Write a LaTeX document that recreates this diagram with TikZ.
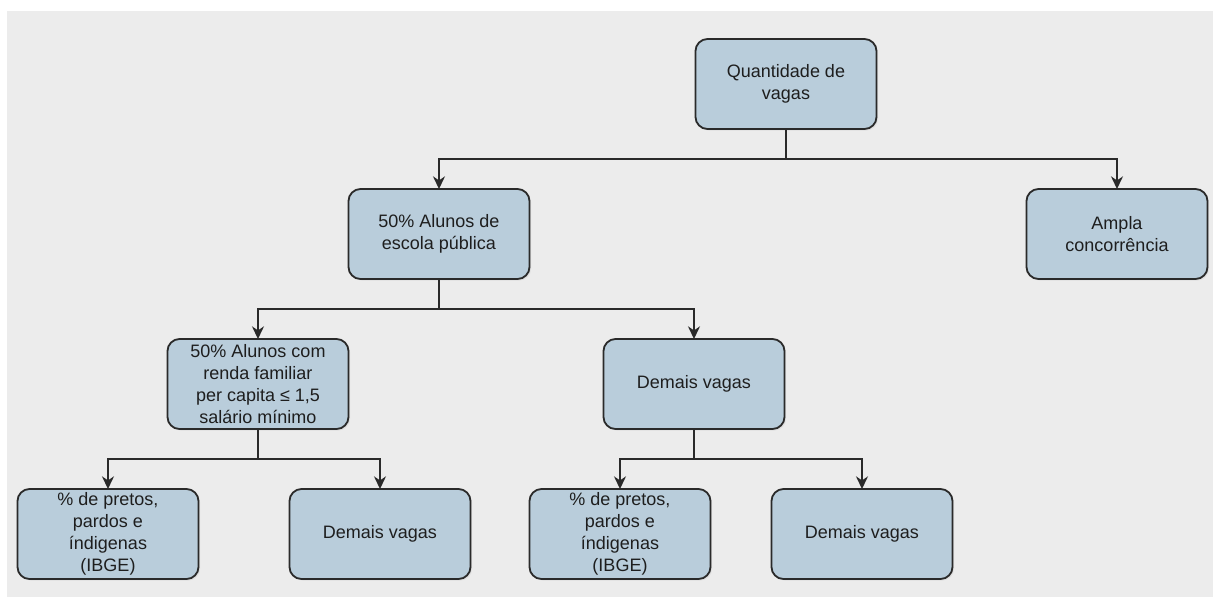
\documentclass[tikz,border=0pt]{standalone}
\usepackage{fontspec}
\setmainfont{Liberation Sans}
\usetikzlibrary{positioning,arrows.meta,shadows}
\definecolor{fundo}{HTML}{ECECEC}
\definecolor{azulcaixa}{HTML}{B9CDDB}
\definecolor{borda}{HTML}{2A2A2A}
\definecolor{texto}{HTML}{1E1E1E}
\tikzset{
	caixa/.style={draw=borda, line width=1.35pt, fill=azulcaixa, rounded corners=9pt,
		minimum width=135.75pt, minimum height=67.5pt, align=center, inner sep=1pt,
		outer sep=0pt, text=texto, font=\fontsize{13.5}{16.5}\selectfont,
		drop shadow={shadow xshift=1.2pt, shadow yshift=-1.2pt, opacity=0.12}},
	seta/.style={draw=borda, line width=1.3pt, -{Stealth[length=9.5pt,width=9pt]}}
}
\begin{document}
\begin{tikzpicture}[x=0.75pt,y=0.75pt,node distance=45pt]
		\useasboundingbox (-786,-513) rectangle (427,84);
		\fill[fundo] (-779,-513) rectangle (427,73);
		
		\node[caixa] (qv) {Quantidade de\\vagas};
		\node[caixa, below=of qv, xshift=-260.25pt] (pub) {50\% Alunos de\\escola pública};
		\node[caixa, below=of qv, xshift=248.25pt] (ampla) {Ampla\\concorrência};
		\node[caixa, below=of pub, xshift=-135.75pt] (renda) {50\% Alunos com\\renda familiar\\per capita ≤ 1,5\\salário mínimo};
		\node[caixa, below=of pub, xshift=191.25pt] (dem) {Demais vagas};
		\node[caixa, below=of renda, xshift=-112.5pt] (pp1) {\% de pretos,\\pardos e\\índigenas\\(IBGE)};
		\node[caixa, below=of renda, xshift=91.5pt] (dv1) {Demais vagas};
		\node[caixa, below=of dem, xshift=-55.5pt] (pp2) {\% de pretos,\\pardos e\\índigenas\\(IBGE)};
		\node[caixa, below=of dem, xshift=126pt] (dv2) {Demais vagas};
		
		\draw[seta] (qv.south) -- ++(0,-30) -| (pub.north);
		\draw[seta] (qv.south) -- ++(0,-30) -| (ampla.north);
		\draw[seta] (pub.south) -- ++(0,-30) -| (renda.north);
		\draw[seta] (pub.south) -- ++(0,-30) -| (dem.north);
		\draw[seta] (renda.south) -- ++(0,-30) -| (pp1.north);
		\draw[seta] (renda.south) -- ++(0,-30) -| (dv1.north);
		\draw[seta] (dem.south) -- ++(0,-30) -| (pp2.north);
		\draw[seta] (dem.south) -- ++(0,-30) -| (dv2.north);
\end{tikzpicture}
\end{document}
